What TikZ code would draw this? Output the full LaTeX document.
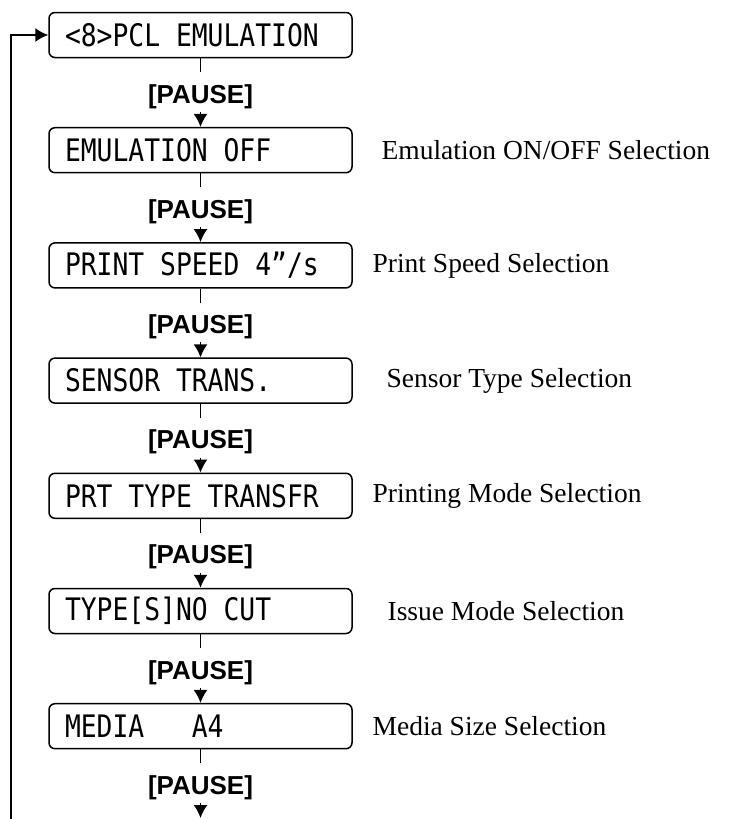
\documentclass[tikz,border=0pt]{standalone}
\usepackage{fontspec}
\usetikzlibrary{positioning, arrows.meta}
\setmainfont{Liberation Serif}
\newfontfamily\lcdfont[FakeStretch=0.85]{DejaVu Sans Mono}
\newfontfamily\keyfont{Liberation Sans}
\newcommand\lcdspacing{\spaceskip=15.86pt\relax\xspaceskip=15.86pt\relax}

\begin{document}
\begin{tikzpicture}[
    x=1pt, y=-1pt,
    line width=1.7pt,
    lcdbox/.style={
        rectangle,
        rounded corners=6pt,
        draw=black,
        line width=1.5pt,
        text width=271pt,
        align=left,
        inner xsep=16pt,
        minimum height=45pt,
        font=\lcdfont\fontsize{31}{31}\selectfont\lcdspacing
    },
    pausekey/.style={
        inner xsep=0pt,
        inner ysep=3pt,
        text height=27pt,
        text depth=5pt,
        font=\keyfont\bfseries\fontsize{26}{26}\selectfont
    },
    remark/.style={
        anchor=west,
        inner sep=0pt,
        font=\fontsize{27.5}{27.5}\selectfont
    },
    flow/.style={-{Latex[length=13pt,width=14pt]}}
]
\useasboundingbox (0,0) rectangle (745,819);

% Menu boxes and pause keys
\node[lcdbox] (pcl) at (200.5,35) {\lcdspacing <8>PCL EMULATION};
\node[pausekey, below=14pt of pcl] (p1) {[PAUSE]};
\node[lcdbox, below=15pt of p1] (emul) {\lcdspacing EMULATION OFF};
\node[pausekey, below=14pt of emul] (p2) {[PAUSE]};
\node[lcdbox, below=15pt of p2] (speed) {\lcdspacing PRINT SPEED 4”/s};
\node[pausekey, below=14pt of speed] (p3) {[PAUSE]};
\node[lcdbox, below=15pt of p3] (sensor) {\lcdspacing SENSOR TRANS.};
\node[pausekey, below=14pt of sensor] (p4) {[PAUSE]};
\node[lcdbox, below=15pt of p4] (prtmode) {\lcdspacing PRT TYPE TRANSFR};
\node[pausekey, below=14pt of prtmode] (p5) {[PAUSE]};
\node[lcdbox, below=15pt of p5] (issue) {\lcdspacing TYPE[S]NO CUT};
\node[pausekey, below=14pt of issue] (p6) {[PAUSE]};
\node[lcdbox, below=15pt of p6] (media) {\lcdspacing MEDIA\ \ \ A4};
\node[pausekey, below=14pt of media] (p7) {[PAUSE]};

% Remarks
\node[remark, right=28pt of emul] (r1) {Emulation ON/OFF Selection};
\node[remark, right=19pt of speed] (r2) {Print Speed Selection};
\node[remark, right=33pt of sensor] (r3) {Sensor Type Selection};
\node[remark, right=19pt of prtmode] (r4) {Printing Mode Selection};
\node[remark, right=34pt of issue] (r5) {Issue Mode Selection};
\node[remark, right=19pt of media] (r6) {Media Size Selection};

% Connectors
\coordinate (next) at (200.5,818);
\coordinate (loop) at (11,819);
\draw (pcl) -- (p1);
\draw[flow] (p1) -- (emul);
\draw (emul) -- (p2);
\draw[flow] (p2) -- (speed);
\draw (speed) -- (p3);
\draw[flow] (p3) -- (sensor);
\draw (sensor) -- (p4);
\draw[flow] (p4) -- (prtmode);
\draw (prtmode) -- (p5);
\draw[flow] (p5) -- (issue);
\draw (issue) -- (p6);
\draw[flow] (p6) -- (media);
\draw (media) -- (p7);
\draw[flow] (p7) -- (next);
\draw[flow] (loop) |- (pcl.west);

\end{tikzpicture}
\end{document}
